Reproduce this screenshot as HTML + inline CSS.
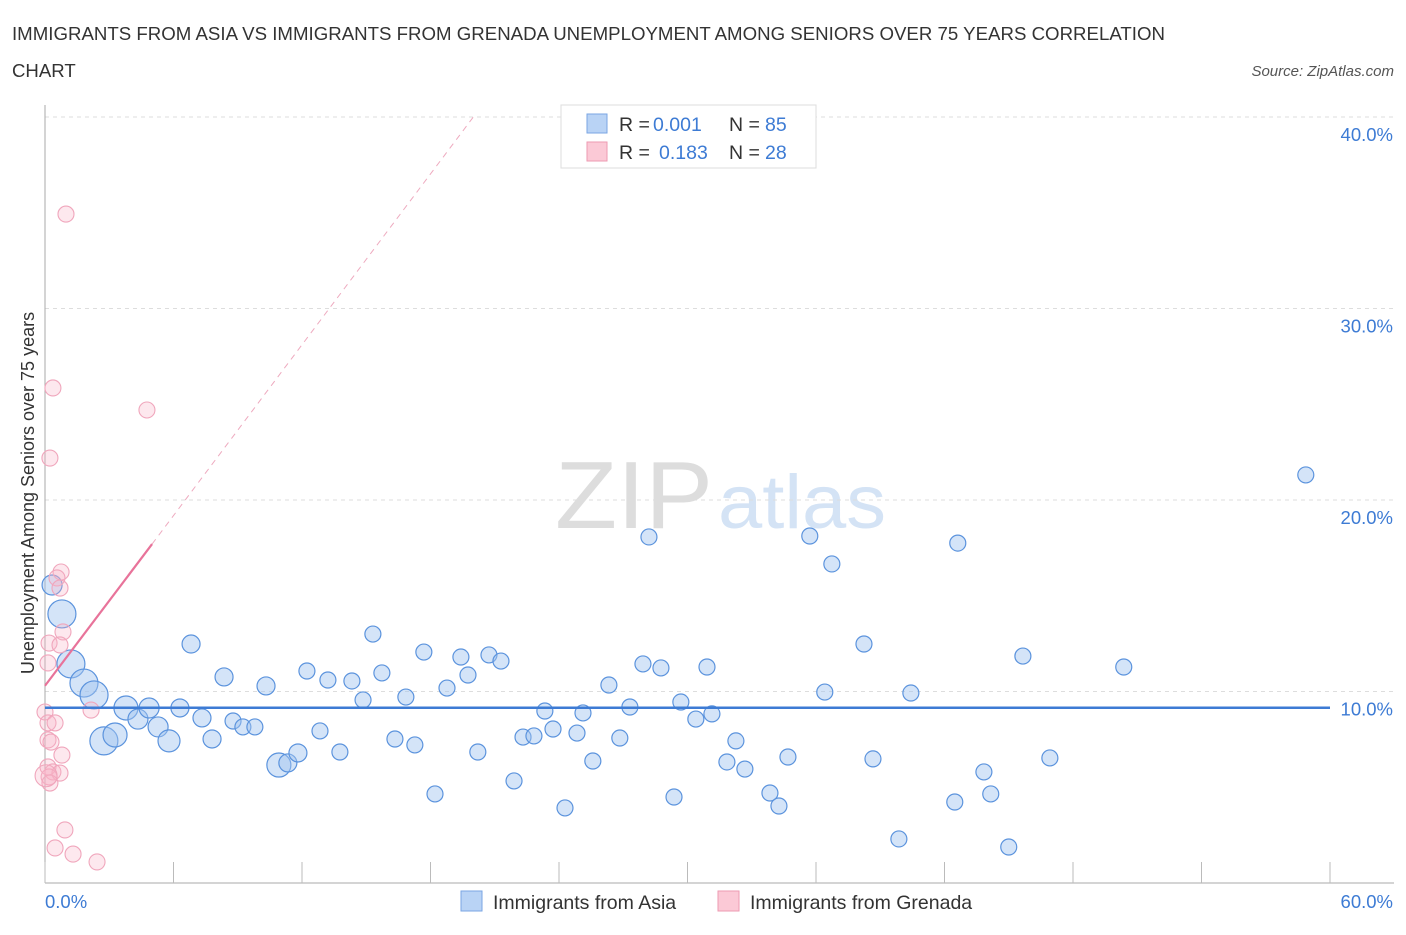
<!DOCTYPE html>
<html><head><meta charset="utf-8"><style>
body{margin:0;background:#fff;font-family:"Liberation Sans",sans-serif;}
svg text{font-family:"Liberation Sans",sans-serif;}
</style></head><body>
<svg id="chart" width="1406" height="930" xmlns="http://www.w3.org/2000/svg">
<text x="12" y="40" font-size="18.6" fill="#333" textLength="1153" lengthAdjust="spacingAndGlyphs">IMMIGRANTS FROM ASIA VS IMMIGRANTS FROM GRENADA UNEMPLOYMENT AMONG SENIORS OVER 75 YEARS CORRELATION</text>
<text x="12" y="77" font-size="18.6" fill="#333">CHART</text>
<text x="1394" y="76" font-size="15" fill="#555" text-anchor="end" font-style="italic">Source: ZipAtlas.com</text>
<text x="555" y="528" font-size="96" fill="#ddd" font-family="Liberation Serif" textLength="158" lengthAdjust="spacingAndGlyphs">ZIP</text>
<text x="718" y="528" font-size="76" fill="#d4e3f5" textLength="168" lengthAdjust="spacingAndGlyphs">atlas</text>
<g id="grid"></g><g id="axes"></g><g id="pts"></g><g id="trend"></g>
<text transform="translate(34,493) rotate(-90)" font-size="18" fill="#333" text-anchor="middle">Unemployment Among Seniors over 75 years</text>
<text x="45" y="908" font-size="18.5" fill="#3d7bd4">0.0%</text>
<text x="1393" y="908" font-size="18.5" fill="#3d7bd4" text-anchor="end">60.0%</text>
<g>
<rect x="561" y="105" width="255" height="63" fill="#fff" stroke="#ddd"/>
<rect x="587" y="114" width="20" height="19" fill="#b9d3f5" stroke="#7aa6e3"/>
<rect x="587" y="142" width="20" height="19" fill="#fbc9d6" stroke="#ee9ab2"/>
<text x="619" y="131" font-size="19.5" fill="#333">R =</text>
<text x="653" y="131" font-size="19.5" fill="#3d7bd4">0.001</text>
<text x="729" y="131" font-size="19.5" fill="#333">N =</text>
<text x="765" y="131" font-size="19.5" fill="#3d7bd4">85</text>
<text x="619" y="159" font-size="19.5" fill="#333">R =</text>
<text x="659" y="159" font-size="19.5" fill="#3d7bd4">0.183</text>
<text x="729" y="159" font-size="19.5" fill="#333">N =</text>
<text x="765" y="159" font-size="19.5" fill="#3d7bd4">28</text>
</g>
<g>
<rect x="461" y="891" width="21" height="20" fill="#b9d3f5" stroke="#7aa6e3"/>
<text x="493" y="909" font-size="19.5" fill="#333">Immigrants from Asia</text>
<rect x="718" y="891" width="21" height="20" fill="#fbc9d6" stroke="#ee9ab2"/>
<text x="750" y="909" font-size="19.5" fill="#333">Immigrants from Grenada</text>
</g>
</svg>
<script>
const yTicks=[10,20,30,40];
const yTickLabels=["10.0%","20.0%","30.0%","40.0%"];
const xTicks=[0,6,12,18,24,30,36,42,48,54,60];
const asiaX=[0.33,0.79,1.21,1.82,2.29,2.75,3.27,3.78,4.34,4.86,5.28,5.79,6.30,6.82,7.33,7.80,8.36,8.78,9.24,9.80,10.32,10.92,11.34,11.81,12.23,12.84,13.21,13.77,14.33,14.85,15.31,15.73,16.34,16.85,17.27,17.69,18.21,18.77,19.42,19.75,20.21,20.73,21.29,21.90,22.32,22.83,23.34,23.72,24.28,24.84,25.12,25.58,26.33,26.84,27.31,27.92,28.20,28.76,29.37,29.69,30.39,30.91,31.14,31.84,32.26,32.68,33.85,34.27,34.69,35.71,36.41,36.74,38.24,38.66,39.87,40.43,42.48,42.62,43.84,44.16,45.00,45.66,46.92,50.37,58.87];
const asiaY=[15.56,14.05,11.44,10.44,9.82,7.42,7.73,9.14,8.56,9.14,8.15,7.42,9.14,12.48,8.62,7.52,10.76,8.46,8.15,8.15,10.29,6.16,6.27,6.79,11.07,7.94,10.60,6.84,10.55,9.56,13.00,10.97,7.52,9.71,7.21,12.06,4.65,10.18,11.80,10.86,6.84,11.91,11.59,5.33,7.62,7.68,8.98,8.04,3.92,7.83,8.88,6.37,10.34,7.57,9.19,11.44,18.07,11.23,4.49,9.45,8.56,11.28,8.83,6.32,7.42,5.95,4.70,4.02,6.58,18.12,9.97,16.66,12.48,6.48,2.30,9.92,4.23,17.75,5.80,4.65,1.88,11.85,6.53,11.28,21.31];
const asiaSize=[10,14,14,14,14,14,12,12,10,10,10,11,9,9,9,9,9,8,8,8,9,12,9,9,8,8,8,8,8,8,8,8,8,8,8,8,8,8,8,8,8,8,8,8,8,8,8,8,8,8,8,8,8,8,8,8,8,8,8,8,8,8,8,8,8,8,8,8,8,8,8,8,8,8,8,8,8,8,8,8,8,8,8,8,8];
const grenX=[0.98,0.37,4.76,0.23,0.75,0.56,0.70,0.84,0.19,0.70,0.14,2.15,0.00,0.14,0.47,0.14,0.28,0.79,0.14,0.37,0.70,0.19,0.23,0.93,0.47,1.31,2.43,0.05];
const grenY=[34.93,25.85,24.70,22.19,16.24,15.93,15.40,13.11,12.53,12.43,11.49,9.03,8.93,8.36,8.36,7.47,7.36,6.68,6.06,5.80,5.74,5.54,5.22,2.77,1.83,1.51,1.10,5.6];
const grenSize=[8,8,8,8,8,8,8,8,8,8,8,8,8,8,8,8,8,8,8,8,8,8,8,8,8,8,8,11];
const asiaTrend=[9.15,9.15];
const grenTrend=[10.3,17.7,40];
const grenTrendX=[0,5,20];
const NS="http://www.w3.org/2000/svg";
const X=v=>45+v*(1330-45)/60;
const Y=v=>883-v*19.15;
function mk(t,a,p){const e=document.createElementNS(NS,t);for(const k in a)e.setAttribute(k,a[k]);document.getElementById(p).appendChild(e);return e;}
yTicks.forEach((t,i)=>{
 const g=mk('line',{x1:45,x2:1394,y1:Y(t),y2:Y(t),stroke:'#ddd','stroke-dasharray':'4,4'},'grid');
 
 
 const l=mk('text',{x:1393,y:Y(t)+24,'font-size':18.5,fill:'#3d7bd4','text-anchor':'end'},'grid');
 l.textContent=yTickLabels[i];
 
 
});
const ax=mk('line',{x1:45,x2:45,y1:105,y2:883,stroke:'#aaa'},'axes');


const bx=mk('line',{x1:45,x2:1394,y1:883,y2:883,stroke:'#aaa'},'axes');


xTicks.forEach(t=>{
 const k=mk('line',{x1:X(t),x2:X(t),y1:862,y2:883,stroke:'#bbb'},'axes');
 
 
});
asiaX.forEach((v,i)=>{
 const c=mk('circle',{cx:X(v),cy:Y(asiaY[i]),r:asiaSize[i],fill:'rgba(160,195,240,0.45)',stroke:'#5b93dd','stroke-width':1.2},'pts');
 
 
});
grenX.forEach((v,i)=>{
 const c=mk('circle',{cx:X(v),cy:Y(grenY[i]),r:grenSize[i],fill:'rgba(250,180,200,0.3)',stroke:'#f0a6bc','stroke-width':1.1},'pts');
 
 
});
const at=mk('line',{x1:X(0),x2:X(60),y1:Y(asiaTrend[0]),y2:Y(asiaTrend[1]),stroke:'#3d7bd4','stroke-width':2.5},'trend');


const gt=mk('line',{x1:X(grenTrendX[0]),x2:X(grenTrendX[1]),y1:Y(grenTrend[0]),y2:Y(grenTrend[1]),stroke:'#e8739a','stroke-width':2.2},'trend');


const gd=mk('line',{x1:X(grenTrendX[1]),x2:X(grenTrendX[2]),y1:Y(grenTrend[1]),y2:Y(grenTrend[2]),stroke:'#eeaabf','stroke-width':1,'stroke-dasharray':'6,5'},'trend');


</script>
</body></html>
